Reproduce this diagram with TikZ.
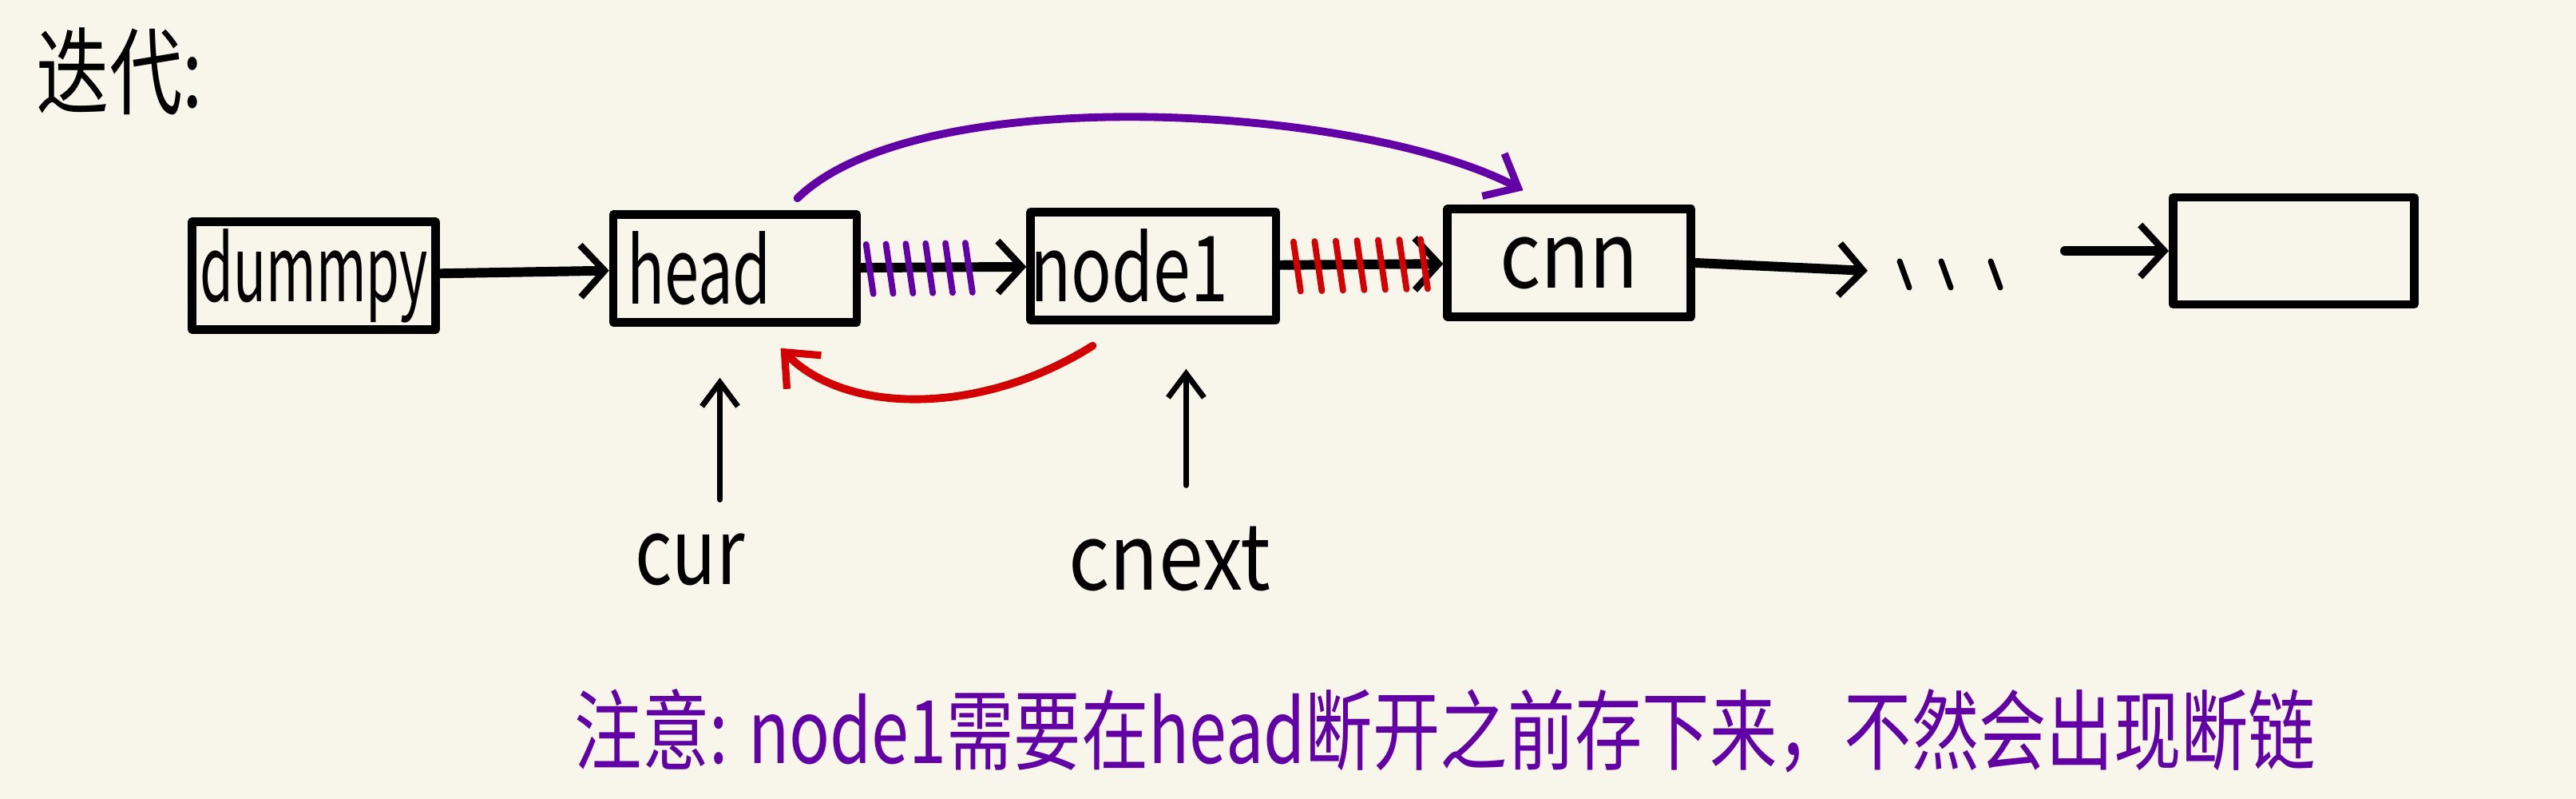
\documentclass[tikz,border=0pt]{standalone}
\usepackage{fontspec}
\setmainfont{Noto Sans CJK SC}
\usetikzlibrary{arrows.meta,positioning,calc}
\definecolor{paper}{RGB}{248,246,234}
\definecolor{pen}{RGB}{98,0,166}
\definecolor{redpen}{RGB}{210,0,0}
\newcommand{\tall}[2][0.85]{\scalebox{#1}[1.25]{#2}}

\begin{document}
\begin{tikzpicture}[line cap=round,line join=round]
	\tikzstyle{box}=[draw,line width=3pt,minimum width=3.05cm,minimum height=1.35cm,inner sep=0pt,font=\fontsize{26}{26}\selectfont]
	\tikzstyle{link}=[line width=3.4pt,-{Straight Barb[length=3mm,width=6.5mm,line width=2.4pt]}]
	\tikzstyle{ptr}=[line width=2.2pt,-{Straight Barb[length=3mm,width=4.5mm,line width=2pt]}]
	\tikzstyle{tag}=[font=\fontsize{26}{26}\selectfont]
	\tikzstyle{hatch}=[line width=2.2pt]
	\fill[paper] (0,0) rectangle (32.26,10);
	\useasboundingbox (0,0) rectangle (32.26,10);

	\node[font=\fontsize{26}{26}\selectfont](title) at (1.5,9.1){\scalebox{1}[1.3]{迭代:}};

	% list
	\node[box](dummy) at (3.93,6.55){\tall[0.74]{dummpy}};
	\node[box](head)[right=2.12cm of dummy,yshift=0.9mm]{\tall{head}\hspace{9mm}\null};
	\node[box](node1)[right=2.07cm of head,yshift=0.3mm]{\tall[0.92]{node1}\hspace{6mm}\null};
	\node[box](cnn)[right=2.04cm of node1,yshift=0.4mm]{\tall[1.1]{cnn}};
	\node[box,minimum width=3.02cm,minimum height=1.34cm](last)[right=5.93cm of cnn,yshift=1.5mm]{};
	\coordinate (dotsL) at ($(cnn.east)+(2.16,-0.1)$);
	\coordinate (dotsR) at ($(last.west)+(-1.3,0)$);

	\draw[link] (dummy) -- (head);
	\draw[link] (head) -- (node1);
	\draw[link] (node1) -- (cnn);
	\draw[link] (cnn.east) -- (dotsL);
	\draw[link] (dotsR) -- (last.west);
	\foreach \dx in {0.4,0.92,1.54}
		\draw[line width=2pt] ($(dotsL)+(\dx,0.12)$) -- ++(0.12,-0.33);

	% cut links
	\foreach \t in {0.05,0.17,...,0.7}
		\draw[hatch,pen] ($(head.east)!\t!(node1.west)+(-0.04,0.3)$) -- ++(0.09,-0.62);
	\foreach \t in {0.1,0.23,...,0.95}
		\draw[hatch,redpen] ($(node1.east)!\t!(cnn.west)+(-0.04,0.3)$) -- ++(0.09,-0.62);

	% new links
	\draw[pen,line width=2.8pt,-{Straight Barb[length=3.5mm,width=6mm,line width=2.6pt]}]
		($(head.north)+(0.78,0.15)$) .. controls (11.5,9.0) and (17.0,8.7) .. ($(cnn.north west)+(1.0,0.18)$);
	\draw[redpen,line width=2.8pt,-{Straight Barb[length=3.5mm,width=6mm,line width=2.6pt]}]
		($(node1.south)+(-0.76,-0.27)$) .. controls (12.3,4.8) and (10.6,4.8) .. ($(head.south)+(0.57,-0.27)$);

	% pointers
	\node[tag](curlbl) at (8.64,3.0){\tall[1]{cur}};
	\node[tag](nextlbl) at (14.65,3.0){\tall[1.1]{cnext}};
	\coordinate (curtip) at ($(head.south)+(-0.19,-0.64)$);
	\coordinate (nexttip) at ($(node1.south)+(0.41,-0.56)$);
	\draw[ptr,shorten <=3mm] (curtip |- curlbl.north) -- (curtip);
	\draw[ptr,shorten <=4mm] (nexttip |- nextlbl.north) -- (nexttip);

	\node[pen,font=\fontsize{24}{24}\selectfont](note) at (18.1,0.85){\scalebox{1}[1.3]{注意: node1需要在head断开之前存下来，不然会出现断链}};
\end{tikzpicture}
\end{document}
